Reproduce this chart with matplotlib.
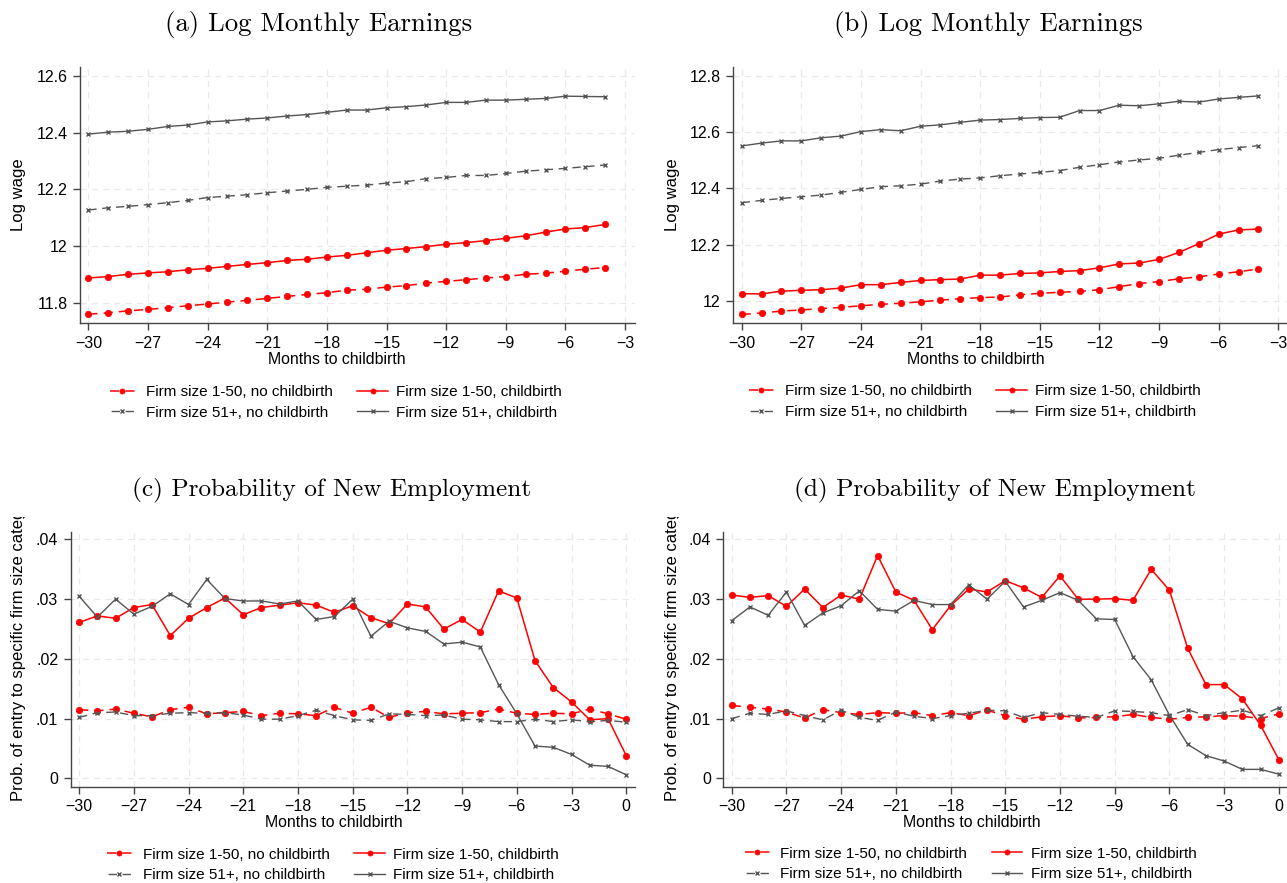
import matplotlib
matplotlib.use("Agg")
import matplotlib.pyplot as plt
from matplotlib.lines import Line2D
from matplotlib.transforms import Bbox, TransformedBbox

plt.rcParams['font.family'] = ['Liberation Sans', 'DejaVu Sans']

# months relative to childbirth
months_wage = list(range(-30, -3))
months_entry = list(range(-30, 1))

# (a) log monthly earnings
a_small_nochild = [11.759, 11.764, 11.771, 11.776, 11.782, 11.789, 11.795, 11.802, 11.808,
                   11.815, 11.822, 11.829, 11.835, 11.844, 11.847, 11.855, 11.860, 11.869,
                   11.875, 11.881, 11.887, 11.892, 11.900, 11.904, 11.911, 11.918, 11.924]
a_small_child = [11.887, 11.892, 11.900, 11.905, 11.909, 11.916, 11.921, 11.928, 11.935,
                 11.941, 11.949, 11.953, 11.961, 11.967, 11.976, 11.985, 11.991, 11.998,
                 12.006, 12.012, 12.019, 12.027, 12.036, 12.049, 12.060, 12.065, 12.076]
a_large_nochild = [12.127, 12.135, 12.140, 12.146, 12.153, 12.161, 12.171, 12.176, 12.181,
                   12.188, 12.194, 12.200, 12.207, 12.211, 12.215, 12.222, 12.227, 12.238,
                   12.242, 12.249, 12.249, 12.256, 12.264, 12.269, 12.274, 12.280, 12.286]
a_large_child = [12.395, 12.402, 12.405, 12.412, 12.422, 12.427, 12.438, 12.442, 12.448,
                 12.452, 12.459, 12.464, 12.472, 12.480, 12.480, 12.488, 12.492, 12.498,
                 12.507, 12.507, 12.515, 12.515, 12.518, 12.521, 12.529, 12.528, 12.527]

# (b) log monthly earnings
b_small_nochild = [11.951, 11.956, 11.963, 11.967, 11.972, 11.976, 11.982, 11.987, 11.991,
                   11.996, 12.002, 12.007, 12.011, 12.013, 12.021, 12.026, 12.030, 12.033,
                   12.039, 12.050, 12.061, 12.068, 12.078, 12.085, 12.095, 12.103, 12.113]
b_small_child = [12.025, 12.024, 12.034, 12.037, 12.039, 12.045, 12.057, 12.057, 12.065,
                 12.072, 12.075, 12.077, 12.091, 12.091, 12.097, 12.099, 12.104, 12.107,
                 12.117, 12.131, 12.134, 12.147, 12.172, 12.203, 12.237, 12.252, 12.255]
b_large_nochild = [12.349, 12.357, 12.364, 12.370, 12.376, 12.386, 12.396, 12.406, 12.409,
                   12.415, 12.426, 12.433, 12.437, 12.445, 12.451, 12.457, 12.463, 12.475,
                   12.484, 12.494, 12.501, 12.507, 12.518, 12.528, 12.538, 12.545, 12.552]
b_large_child = [12.551, 12.561, 12.569, 12.569, 12.580, 12.586, 12.602, 12.609, 12.605,
                 12.621, 12.626, 12.635, 12.643, 12.645, 12.649, 12.652, 12.653, 12.677,
                 12.677, 12.696, 12.694, 12.701, 12.710, 12.707, 12.718, 12.724, 12.729]

# (c) probability of new employment
c_small_nochild = [.0115, .0113, .0116, .0109, .0103, .0115, .0119, .0108, .0110, .0112, .0105,
                   .0109, .0108, .0105, .0119, .0109, .0119, .0102, .0110, .0112, .0108, .0109,
                   .0110, .0116, .0109, .0107, .0109, .0108, .0116, .0108, .0099]
c_small_child = [.0261, .0272, .0268, .0286, .0291, .0239, .0268, .0286, .0302, .0274, .0286,
                 .0290, .0294, .0290, .0278, .0289, .0269, .0259, .0292, .0287, .0250, .0266,
                 .0245, .0314, .0302, .0197, .0152, .0128, .0098, .0100, .0038]
c_large_nochild = [.0102, .0110, .0111, .0105, .0105, .0109, .0110, .0109, .0110, .0106, .0099,
                   .0099, .0105, .0114, .0105, .0098, .0097, .0108, .0107, .0105, .0106, .0099,
                   .0098, .0095, .0095, .0099, .0095, .0098, .0095, .0097, .0094]
c_large_child = [.0305, .0270, .0300, .0275, .0288, .0309, .0291, .0333, .0301, .0297, .0297,
                 .0292, .0297, .0266, .0271, .0300, .0238, .0263, .0252, .0246, .0225, .0228,
                 .0220, .0157, .0108, .0054, .0052, .0040, .0022, .0020, .0006]

# (d) probability of new employment
d_small_nochild = [.0122, .0119, .0116, .0111, .0101, .0115, .0110, .0107, .0110, .0109, .0110,
                   .0105, .0110, .0105, .0114, .0105, .0099, .0103, .0105, .0101, .0102, .0103,
                   .0107, .0102, .0099, .0102, .0103, .0105, .0104, .0100, .0108]
d_small_child = [.0307, .0303, .0306, .0288, .0317, .0286, .0307, .0300, .0373, .0312, .0298,
                 .0249, .0289, .0317, .0312, .0331, .0319, .0303, .0339, .0300, .0300, .0301,
                 .0298, .0350, .0315, .0218, .0157, .0157, .0133, .0089, .0031]
d_large_nochild = [.0100, .0109, .0107, .0113, .0105, .0098, .0114, .0102, .0097, .0111, .0104,
                   .0100, .0105, .0109, .0114, .0113, .0102, .0110, .0107, .0104, .0102, .0113,
                   .0112, .0110, .0105, .0115, .0105, .0110, .0114, .0105, .0118]
d_large_child = [.0264, .0287, .0273, .0312, .0256, .0277, .0289, .0314, .0283, .0280, .0298,
                 .0291, .0291, .0324, .0300, .0330, .0287, .0298, .0311, .0298, .0267, .0266,
                 .0204, .0165, .0106, .0057, .0038, .0029, .0015, .0015, .0007]

series_labels = ['Firm size 1-50, no childbirth', 'Firm size 1-50, childbirth',
                 'Firm size 51+, no childbirth', 'Firm size 51+, childbirth']

wage_xticks = list(range(-30, -2, 3))
entry_xticks = list(range(-30, 1, 3))
a_yticks = [11.8, 12.0, 12.2, 12.4, 12.6]
a_yticklabels = ['11.8', '12', '12.2', '12.4', '12.6']
b_yticks = [12.0, 12.2, 12.4, 12.6, 12.8]
b_yticklabels = ['12', '12.2', '12.4', '12.6', '12.8']
entry_yticks = [0, .01, .02, .03, .04]
entry_yticklabels = ['0', '.01', '.02', '.03', '.04']

W, H = 1287, 883
RED = '#ff0000'
GRAY = '#555555'
FS_TICK = 11.5
FS_LABEL = 11.4
FS_YLABEL = 12
FS_LEG = 11

# (colour, dashed?, marker, marker size, line width)
STYLES = [
    (RED, True, 'o', 4.6, 1.1),
    (RED, False, 'o', 4.6, 1.1),
    (GRAY, True, 'x', 3.5, 1.0),
    (GRAY, False, 'x', 3.5, 1.0),
]

fig = plt.figure(figsize=(W / 100, H / 100), dpi=100)


def px_axes(left, top, right, bottom):
    return fig.add_axes([left / W, 1 - bottom / H, (right - left) / W, (bottom - top) / H])


def draw_panel(ax, x, *series):
    for y, (c, dashed, m, ms, lw), lab in zip(series, STYLES, series_labels):
        ax.plot(x, y, color=c, linestyle=(0, (6, 4)) if dashed else '-', lw=lw,
                marker=m, markersize=ms, markeredgewidth=1.0 if m == 'x' else 0.5,
                label=lab)
    ax.grid(True, color='#e9e9e9', linestyle=(0, (5, 4)), lw=0.9)
    ax.set_axisbelow(True)
    for s in ['top', 'right']:
        ax.spines[s].set_visible(False)
    for s in ['left', 'bottom']:
        ax.spines[s].set_color('#444444')
        ax.spines[s].set_linewidth(1.0)
    ax.tick_params(direction='out', length=5, width=1, color='#444444', labelsize=FS_TICK,
                   pad=4)


def legend_handles():
    # dash offset puts a gap under the marker: "- o -"
    handles = []
    for c, dashed, m, ms, lw in STYLES:
        ls = ((8 if lw > 1.05 else 7), (6, 4)) if dashed else '-'
        handles.append(Line2D([], [], color=c, linestyle=ls, lw=lw, marker=m,
                              markersize=ms * 0.8,
                              markeredgewidth=1.0 if m == 'x' else 0.5))
    return handles


def add_legend(cx, cy):
    handles = legend_handles()
    # column-major fill: 1-50 entries in the first column
    order = [0, 2, 1, 3]
    fig.legend([handles[i] for i in order], [series_labels[i] for i in order],
               loc='center', bbox_to_anchor=(cx / W, 1 - cy / H), ncol=2,
               frameon=False, fontsize=FS_LEG, numpoints=1, handlelength=2.0,
               handletextpad=0.55, columnspacing=1.6, labelspacing=0.42)


def add_title(text, cx, cy, size):
    fig.text(cx / W, 1 - cy / H, text, family='cmr10', fontsize=size,
             ha='center', va='center')


def xlabel(cx, cy):
    fig.text(cx / W, 1 - cy / H, 'Months to childbirth', fontsize=FS_LABEL,
             ha='center', va='center')


# (a)
ax_a = px_axes(80, 67, 635, 323.3)
draw_panel(ax_a, months_wage, a_small_nochild, a_small_child, a_large_nochild, a_large_child)
ax_a.set_xlim(-30.42, -2.5)
ax_a.set_ylim(11.727, 12.632)
ax_a.set_xticks(wage_xticks)
ax_a.set_yticks(a_yticks)
ax_a.set_yticklabels(a_yticklabels)
ax_a.set_ylabel('Log wage', fontsize=FS_YLABEL)
ax_a.yaxis.set_label_coords((26 - 80) / 555, 0.5)
xlabel(337, 359)
add_legend(334.5, 402.5)
add_title('(a) Log Monthly Earnings', 319, 25, 19.3)

# (b)
ax_b = px_axes(733.3, 67, 1288.3, 323.3)
draw_panel(ax_b, months_wage, b_small_nochild, b_small_child, b_large_nochild, b_large_child)
ax_b.set_xlim(-30.42, -2.5)
ax_b.set_ylim(11.9195, 12.832)
ax_b.set_xticks(wage_xticks)
ax_b.set_yticks(b_yticks)
ax_b.set_yticklabels(b_yticklabels)
ax_b.set_ylabel('Log wage', fontsize=FS_YLABEL)
ax_b.yaxis.set_label_coords((679.5 - 733.3) / 555, 0.5)
xlabel(976, 359)
add_legend(973.7, 401.7)
add_title('(b) Log Monthly Earnings', 988, 25, 19.3)

# label clipped at the top of the lower row
lower_clip = TransformedBbox(Bbox([[0, 0], [1, 1 - 517 / H]]), fig.transFigure)
entry_ylabel = 'Prob. of entry to specific firm size category'

# (c)
ax_c = px_axes(70.7, 531.7, 635, 786.7)
draw_panel(ax_c, months_entry, c_small_nochild, c_small_child, c_large_nochild, c_large_child)
ax_c.set_xlim(-30.46, 0.48)
ax_c.set_ylim(-0.0014, 0.0413)
ax_c.set_xticks(entry_xticks)
ax_c.set_yticks(entry_yticks)
ax_c.set_yticklabels(entry_yticklabels)
lab = ax_c.set_ylabel(entry_ylabel, fontsize=FS_YLABEL)
ax_c.yaxis.set_label_coords((26 - 70.7) / 564.3, 0.561)
lab.set_clip_box(lower_clip)
lab.set_clip_on(True)
xlabel(334, 822.7)
add_legend(331.7, 865)
add_title('(c) Probability of New Employment', 332, 490, 18.2)

# (d)
ax_d = px_axes(723.3, 531.7, 1287.6, 786.7)
draw_panel(ax_d, months_entry, d_small_nochild, d_small_child, d_large_nochild, d_large_child)
ax_d.set_xlim(-30.46, 0.48)
ax_d.set_ylim(-0.0014, 0.0413)
ax_d.set_xticks(entry_xticks)
ax_d.set_yticks(entry_yticks)
ax_d.set_yticklabels(entry_yticklabels)
lab = ax_d.set_ylabel(entry_ylabel, fontsize=FS_YLABEL)
ax_d.yaxis.set_label_coords((679.5 - 723.3) / 564.3, 0.561)
lab.set_clip_box(lower_clip)
lab.set_clip_on(True)
xlabel(971.8, 822.7)
add_legend(969, 864)
add_title('(d) Probability of New Employment', 995, 490, 18.2)

fig.savefig('out.png', dpi=100)
